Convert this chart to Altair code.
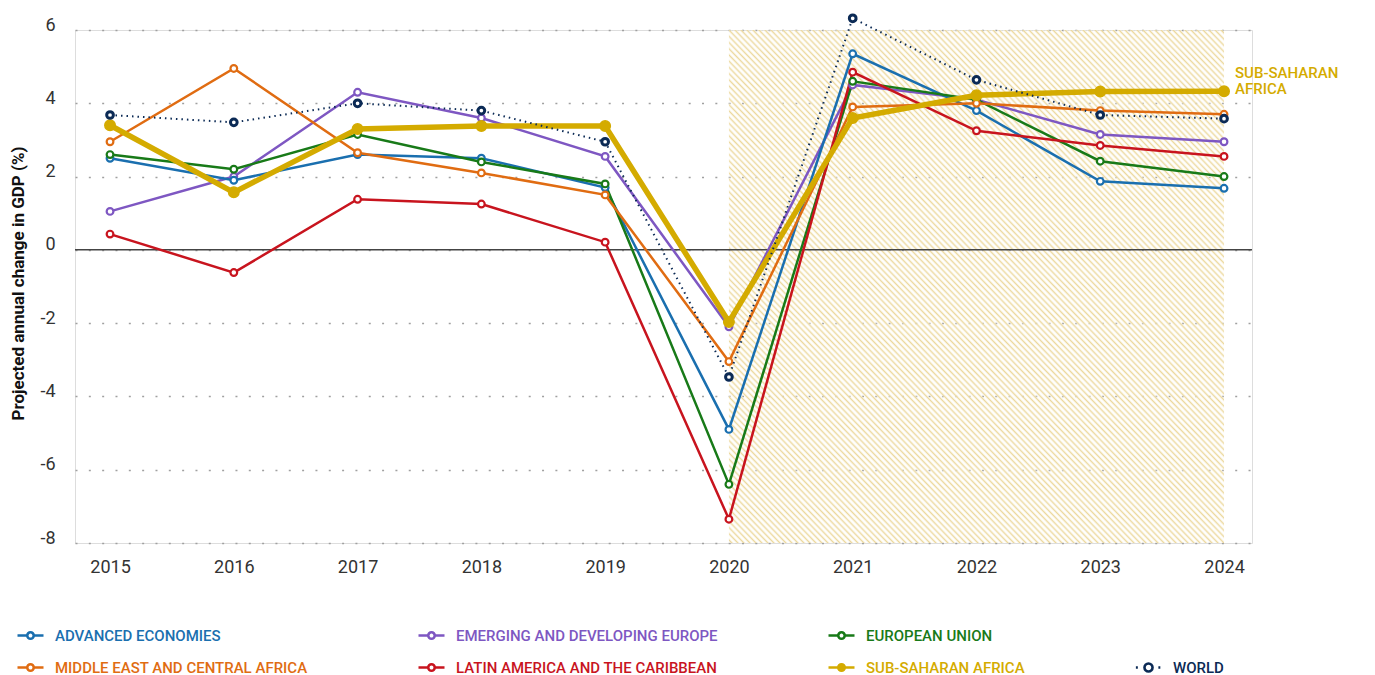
import altair as alt
import pandas as pd

# ---------------- data ----------------
years = [2015, 2016, 2017, 2018, 2019, 2020, 2021, 2022, 2023, 2024]
advanced = [2.5, 1.9, 2.6, 2.5, 1.7, -4.9, 5.35, 3.8, 1.87, 1.68]
emerging_europe = [1.05, 2.0, 4.3, 3.6, 2.55, -2.1, 4.5, 4.1, 3.15, 2.95]
european_union = [2.6, 2.2, 3.15, 2.4, 1.8, -6.4, 4.6, 4.1, 2.42, 2.0]
middle_east = [2.95, 4.95, 2.65, 2.1, 1.5, -3.05, 3.9, 4.0, 3.8, 3.7]
latin_america = [0.43, -0.62, 1.38, 1.25, 0.21, -7.35, 4.85, 3.25, 2.85, 2.55]
sub_saharan = [3.4, 1.57, 3.3, 3.38, 3.38, -1.97, 3.6, 4.22, 4.32, 4.33]
world = [3.68, 3.48, 4.0, 3.8, 2.95, -3.47, 6.32, 4.64, 3.68, 3.58]

projection_years = [2020, 2024]
y_ticks = [-8, -6, -4, -2, 0, 2, 4, 6]

names = {
    "adv": "ADVANCED ECONOMIES",
    "eme": "EMERGING AND DEVELOPING EUROPE",
    "eu": "EUROPEAN UNION",
    "me": "MIDDLE EAST AND CENTRAL AFRICA",
    "lat": "LATIN AMERICA AND THE CARIBBEAN",
    "ssa": "SUB-SAHARAN AFRICA",
    "wld": "WORLD",
}
BLANK = " "
legend_order = [names["adv"], names["eme"], names["eu"], BLANK,
                names["me"], names["lat"], names["ssa"], names["wld"]]
palette = ["#1a6faf", "#7e57c2", "#187a18", "rgba(0,0,0,0)",
           "#e06c12", "#c8141e", "#d4ab00", "#0b2a55"]
SSA_GOLD = palette[legend_order.index(names["ssa"])]


def long(name, vals):
    return pd.DataFrame({"year": years, "value": vals, "series": name})


regular = pd.concat([
    long(names["eme"], emerging_europe),
    long(names["adv"], advanced),
    long(names["eu"], european_union),
    long(names["me"], middle_east),
    long(names["lat"], latin_america),
], ignore_index=True)
ssa_df = long(names["ssa"], sub_saharan)
world_df = long(names["wld"], world)
label_df = pd.DataFrame({"year": [years[-1]], "value": [sub_saharan[-1]],
                         "label": ["SUB-SAHARAN\nAFRICA"], "series": [names["ssa"]]})
proj_df = pd.DataFrame({"x": [projection_years[0]], "x2": [projection_years[1]],
                        "y": [y_ticks[0]], "y2": [y_ticks[-1]]})
zero_df = pd.DataFrame({"value": [0]})

# ---------------- styling ----------------
def hatch(n=165, color="#ecd89c"):
    clear = "rgba(255,255,255,0)"
    stops = []
    for i in range(n):
        stops += [{"offset": i / n, "color": clear},
                  {"offset": (i + 0.5) / n, "color": color}]
    stops.append({"offset": 1.0, "color": clear})
    return {"gradient": "linear", "x1": 0, "y1": 1, "x2": 1, "y2": 0, "stops": stops}


REG_SHAPE = ("M-1,0L-0.25,0M0.25,0L1,0M0.25,0A0.25,0.25,0,1,1,-0.25,0"
             "A0.25,0.25,0,1,1,0.25,0Z")
WLD_SHAPE = ("M-0.97,0L-0.82,0M0.76,0L0.91,0M0.31,0A0.31,0.31,0,1,1,-0.31,0"
             "A0.31,0.31,0,1,1,0.31,0Z")

legend = alt.Legend(
    title=None, orient="none", legendX=-59, legendY=591, columns=4, direction="horizontal",
    columnPadding=105, rowPadding=9, padding=0,
    symbolType=alt.ExprRef(expr=f"datum.value === '{names['wld']}' ? '{WLD_SHAPE}' : '{REG_SHAPE}'"),
    symbolFillColor=alt.ExprRef(expr=f"datum.value === '{names['ssa']}' ? '{SSA_GOLD}' : 'white'"),
    symbolStrokeColor=alt.ExprRef(expr="scale('color', datum.value)"),
    labelColor=alt.ExprRef(expr="scale('color', datum.value)"),
    symbolSize=676, symbolStrokeWidth=2.6, symbolOpacity=1,
    labelFont="Roboto", labelFontSize=15, labelFontWeight=500, labelOffset=10,
    labelLimit=600,
)

XS = alt.Scale(domain=[2014.717, 2024.226], nice=False, zero=False)
YS = alt.Scale(domain=[y_ticks[0], y_ticks[-1]], nice=False, zero=False)

x_enc = alt.X("year:Q", scale=XS,
              axis=alt.Axis(values=years, format="d", grid=False, domain=False, ticks=False,
                            tickSize=0, labelPadding=15, labelFontSize=18, labelColor="#333",
                            labelFont="Roboto", labelFlush=False, title=None))
y_enc = alt.Y("value:Q", scale=YS,
              axis=alt.Axis(values=y_ticks, grid=True, gridDash=[2, 11.33], gridColor="#a0a0a0",
                            gridWidth=1.6, domain=False, ticks=False, tickSize=0,
                            labelPadding=20, labelFontSize=18, labelColor="#333",
                            labelFont="Roboto", labelBaseline="alphabetic",
                            labelExpr="replace(datum.label, '\u2212', '-')",
                            title="Projected annual change in GDP (%)", titleFont="Roboto",
                            titleFontSize=17, titleFontWeight="bold", titleColor="#111",
                            titleX=-57, titleY=253, titleAngle=-90, titleBaseline="middle",
                            titleAlign="center"))
# lines carry the colour legend; markers use the stroke channel (same mapping, no legend)
color_enc = alt.Color("series:N", scale=alt.Scale(domain=legend_order, range=palette),
                      legend=legend)
stroke_enc = alt.Stroke("series:N", scale=alt.Scale(domain=legend_order, range=palette),
                        legend=None)

shade = alt.Chart(proj_df).mark_rect(fill=hatch()).encode(
    x=alt.X("x:Q", scale=XS), x2="x2:Q", y=alt.Y("y:Q", scale=YS), y2="y2:Q")
zero = alt.Chart(zero_df).mark_rule(color="#444", strokeWidth=1.5).encode(y="value:Q")

reg_lines = alt.Chart(regular).mark_line(strokeWidth=2.5).encode(x=x_enc, y=y_enc, color=color_enc)
reg_pts = alt.Chart(regular).mark_point(shape="circle", filled=False, fill="white", size=45,
                                        strokeWidth=2.2, opacity=1).encode(
    x=x_enc, y=y_enc, stroke=stroke_enc)
ssa_line = alt.Chart(ssa_df).mark_line(strokeWidth=5.5).encode(x=x_enc, y=y_enc, color=color_enc)
ssa_pts = alt.Chart(ssa_df).mark_point(shape="circle", filled=False, fill=SSA_GOLD, size=110,
                                       strokeWidth=1.5, opacity=1).encode(
    x=x_enc, y=y_enc, stroke=stroke_enc)
wld_line = alt.Chart(world_df).mark_line(strokeWidth=2, strokeDash=[1.5, 4]).encode(
    x=x_enc, y=y_enc, color=color_enc)
wld_pts = alt.Chart(world_df).mark_point(shape="circle", filled=False, fill="white", size=45,
                                         strokeWidth=3, opacity=1).encode(
    x=x_enc, y=y_enc, stroke=stroke_enc)
ssa_label = alt.Chart(label_df).mark_text(
    align="left", baseline="alphabetic", dx=11, dy=-13, lineBreak="\n", lineHeight=16,
    font="Roboto", fontSize=15, fontWeight=500, color=SSA_GOLD,
).encode(x=x_enc, y=y_enc, text="label:N")

chart = alt.layer(
    shade, zero, reg_lines, reg_pts, ssa_line, ssa_pts, wld_line, wld_pts, ssa_label
).properties(
    width=1177, height=513,
    autosize=alt.AutoSizeParams(type="none"),
    padding={"left": 67, "top": 22, "right": 115, "bottom": 132},
).configure_view(stroke=None).configure(background="white")

chart.save("out.html", embed_options={"renderer": "svg", "actions": False})
